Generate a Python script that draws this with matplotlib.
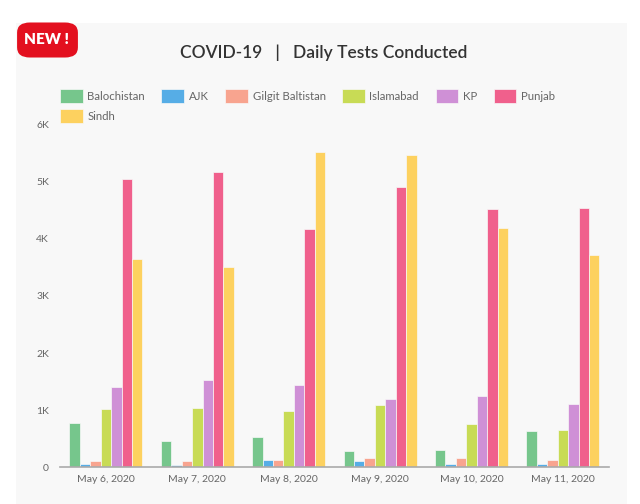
import matplotlib
matplotlib.use("Agg")
import matplotlib.pyplot as plt
import numpy as np
from matplotlib.patches import FancyBboxPatch, Rectangle
from matplotlib.ticker import FuncFormatter

plt.rcParams["font.family"] = ["Lato", "DejaVu Sans"]

dates = ["May 6, 2020", "May 7, 2020", "May 8, 2020", "May 9, 2020", "May 10, 2020", "May 11, 2020"]
regions = ["Balochistan", "AJK", "Gilgit Baltistan", "Islamabad", "KP", "Punjab", "Sindh"]
colors = ["#76c68c", "#56ade6", "#f8a48f", "#c8db55", "#cf90d6", "#f0608c", "#fdd15f"]

balochistan = [765, 450, 530, 285, 295, 625]
ajk = [55, 35, 130, 105, 60, 60]
gilgit = [110, 110, 115, 160, 160, 115]
islamabad = [1010, 1040, 990, 1080, 760, 655]
kp = [1400, 1520, 1440, 1190, 1250, 1110]
punjab = [5050, 5170, 4180, 4920, 4520, 4550]
sindh = [3650, 3500, 5520, 5480, 4200, 3720]
series = [balochistan, ajk, gilgit, islamabad, kp, punjab, sindh]

fig = plt.figure(figsize=(6.4, 5.04), dpi=100)
fig.patch.set_facecolor("white")

# light grey card behind everything
card = Rectangle((16 / 640, 0), 611 / 640, 481 / 504, transform=fig.transFigure,
                 facecolor="#f8f8f8", edgecolor="none", zorder=-5)
fig.patches.append(card)

ax = fig.add_axes([0.094, 0.0734, 0.857, 0.6786])
ax.set_facecolor("#f8f8f8")
ax.set_zorder(2)

x = np.arange(len(dates))
group_w = 0.8
bw = group_w / len(regions)
for i, (name, vals) in enumerate(zip(regions, series)):
    offs = -group_w / 2 + bw * (i + 0.5)
    ax.bar(x + offs, vals, width=bw, color=colors[i], label=name,
           edgecolor="#f8f8f8", linewidth=0.5)

ax.set_xlim(-0.5, len(dates) - 0.5)
ax.set_ylim(0, 6000)
ax.set_yticks(np.arange(0, 6001, 1000))
ax.yaxis.set_major_formatter(FuncFormatter(lambda v, p: "0" if v == 0 else f"{int(v/1000)}K"))
ax.set_xticks(x)
ax.set_xticklabels(dates)
ax.tick_params(axis="both", length=0, labelsize=7.5, colors="#666666")
ax.tick_params(axis="x", pad=6)
ax.tick_params(axis="y", pad=8)
for s in ["top", "right", "left"]:
    ax.spines[s].set_visible(False)
ax.spines["bottom"].set_color("#aaaaaa")
ax.spines["bottom"].set_linewidth(1.2)

# legend: reorder so column-major fill gives two rows (Sindh under Balochistan)
h, l = ax.get_legend_handles_labels()
order = [0, 6, 1, 2, 3, 4, 5]
leg = fig.legend([h[k] for k in order], [l[k] for k in order], ncol=6,
                 loc="upper left", bbox_to_anchor=(60 / 640, 1 - 91 / 504), frameon=False,
                 fontsize=8.2, labelcolor="#666666", handlelength=2.0, handleheight=0.8,
                 handletextpad=0.4, columnspacing=1.45, labelspacing=0.8,
                 borderaxespad=0, borderpad=0)
for p in leg.get_patches():
    p.set_height(10)
    p.set_y(p.get_y() - 2)

fig.text(0.505, 0.895, "COVID-19   |   Daily Tests Conducted", ha="center", va="center",
         fontsize=12.5, color="#333333", fontweight="semibold")

# red "NEW !" badge
badge = FancyBboxPatch((19 / 640, 1 - 56 / 504), 57 / 640, 32 / 504,
                       boxstyle="round,pad=0.003,rounding_size=0.02",
                       transform=fig.transFigure, facecolor="#e3101f",
                       edgecolor="none", zorder=3)
fig.patches.append(badge)
fig.text(46 / 640, 1 - 40 / 504, "NEW !", ha="center", va="center", color="white",
         fontsize=11, fontweight="heavy", zorder=4)

fig.savefig("out.png", dpi=100, facecolor=fig.get_facecolor())
